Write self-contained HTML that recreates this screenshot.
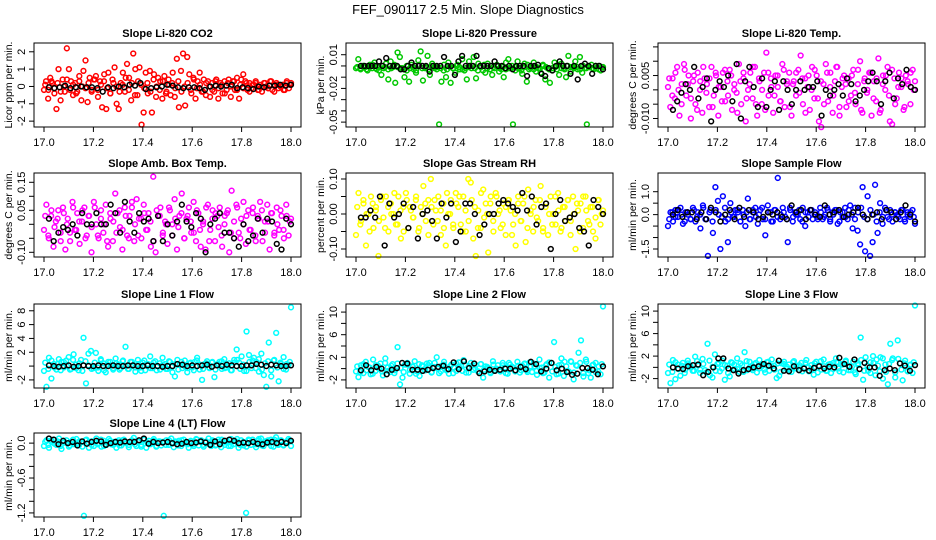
<!DOCTYPE html>
<html><head><meta charset="utf-8"><style>
html,body{margin:0;padding:0;background:#fff}
svg{display:block;font-family:"Liberation Sans",Arial,sans-serif}
</style></head><body>
<svg id="chart" width="936" height="540" viewBox="0 0 936 540">
<text x="468" y="14" text-anchor="middle" font-size="13">FEF_090117  2.5 Min. Slope Diagnostics</text>
</svg>
<script>
// x-axis (hours)
const xTicks=[17.0,17.2,17.4,17.6,17.8,18.0];
const xTickLabels=["17.0","17.2","17.4","17.6","17.8","18.0"];
const xStart=17.0, xEnd=18.0;

const titles=["Slope Li-820 CO2","Slope Li-820 Pressure","Slope Li-820 Temp.","Slope Amb. Box Temp.","Slope Gas Stream RH","Slope Sample Flow","Slope Line 1 Flow","Slope Line 2 Flow","Slope Line 3 Flow","Slope Line 4 (LT) Flow"];
const yTitles=["Licor ppm per min.","kPa per min.","degrees C per min.","degrees C per min.","percent per min.","ml/min per min.","ml/min per min.","ml/min per min.","ml/min per min.","ml/min per min."];
const colors=["#ff0000","#00c800","#ff00ff","#ff00ff","#ffff00","#0000ff","#00ffff","#00ffff","#00ffff","#00ffff"];

const yTicks=[[-2,-1,0,1,2],[-0.05,-0.04,-0.03,-0.02,-0.01,0,0.01],[-0.010,-0.005,0,0.005,0.010,0.015],[-0.10,-0.05,0,0.05,0.10,0.15],[-0.10,-0.05,0,0.05,0.10],[-1.5,-1,-0.5,0,0.5,1],[-2,0,2,4,6,8],[-2,0,2,4,6,8,10],[-2,0,2,4,6,8,10],[-1.2,-1.0,-0.8,-0.6,-0.4,-0.2,0]];
const yTickLabels=[["-2","-1","0","1","2"],["-0.05","","","-0.02","","","0.01"],["-0.010","","","0.005","",""],["-0.10","","","0.05","","0.15"],["-0.10","","0.00","","0.10"],["-1.5","","","0.0","","1.0"],["-2","","2","4","6","8"],["-2","","2","","6","","10"],["-2","","2","","6","","10"],["-1.2","","","-0.6","","","0.0"]];

const yLo=[-2.338,-0.05435,-0.01297,-0.1168,-0.1229,-1.849,-3.17,-3.43,-3.67,-1.27];
const yHi=[2.507,0.02043,0.01636,0.1832,0.1171,1.816,8.98,11.43,11.26,0.174];

const s1=[-0.2,0.3,-0.7,0.5,0.2,-0.4,-1.3,1.0,-0.8,0.4,-0.3,2.2,1.0,0.3,-0.5,0.2,-0.3,0.6,-0.8,0.9,1.5,-0.9,0.5,-0.2,0.4,0.6,-0.6,0.3,-1.2,0.7,-1.3,0.8,-0.4,0.4,1.1,-1.0,-1.3,0.2,0.8,-0.3,1.3,0.5,-0.8,1.9,1.0,-0.5,1.1,-2.2,-1.5,0.8,-0.4,0.9,-1.5,0.7,-0.6,0.5,0.3,-0.7,0.6,-0.3,0.4,-0.5,0.8,-0.6,1.6,-1.2,0.9,1.9,-1.1,1.7,0.7,-0.4,0.5,-0.7,0.3,0.8,-0.3,0.4,-0.5,0.3,-0.6,0.2,-0.3,0.4,-0.7,0.2,-0.4,0.3,-0.2,0.4,-0.6,0.3,-0.2,0.5,-0.7,0.4,0.7,0.3,-0.2,0.2,-0.1,0.1,0.2,-0.2,0.1,-0.3,0.2,0.0,-0.1,0.3,-0.2,0.1,0.2,-0.1,0.0,0.1,-0.2,0.3,-0.1,0.2];
const b1=[-0.05,-0.1,-0.05,0.05,-0.1,-0.05,0.0,-0.05,-0.05,-0.1,-0.3,-0.05,-0.1,0.0,-0.05,0.1,0.05,0.2,-0.15,-0.1,-0.05,0.0,0.1,0.05,-0.05,-0.1,-0.05,-0.05,-0.1,-0.2,0.0,0.05,0.0,0.05,0.1,-0.1,-0.05,-0.1,-0.15,0.0,-0.05,0.05,0.05,0.1,0.05,0.1];
const s2=[-0.002,0.006,-0.003,0.0,-0.001,-0.004,0.001,-0.002,0.003,-0.003,-0.001,-0.008,-0.002,0.002,-0.012,0.004,-0.001,-0.015,0.012,0.008,-0.002,-0.010,-0.004,-0.014,0.001,-0.003,-0.006,0.005,0.013,-0.013,-0.002,0.009,-0.008,0.002,-0.001,-0.003,-0.052,-0.014,-0.004,-0.010,0.003,-0.015,-0.002,-0.006,0.001,-0.003,0.006,-0.004,-0.012,0.004,-0.002,0.008,-0.011,0.002,-0.001,-0.004,-0.006,0.002,-0.003,-0.008,-0.002,0.001,-0.005,-0.003,-0.010,0.003,0.006,-0.002,-0.052,-0.004,0.004,-0.002,-0.007,0.002,-0.014,-0.003,-0.001,0.003,-0.005,-0.002,-0.006,0.001,-0.012,-0.002,-0.015,-0.004,0.003,-0.003,-0.008,0.002,-0.002,-0.010,0.009,-0.005,-0.001,0.004,-0.003,0.008,-0.006,-0.002,-0.052,-0.001,0.001,-0.003,-0.002,0.0,-0.004,-0.001];
const b2=[0.0,0.0,0.0,0.0,0.0,0.004,0.0,0.007,0.0,0.0,0.0,-0.003,-0.003,0.0,0.003,0.0,0.0,0.0,0.0,-0.005,0.0,0.0,0.0,0.008,0.0,0.0,-0.008,0.004,0.009,0.0,0.0,0.0,0.009,0.0,0.0,0.0,0.0,0.004,0.0,0.0,-0.002,0.0,-0.003,0.0,0.0,0.0,-0.009,0.0,0.0,0.001,-0.007,-0.009,-0.002,-0.004,0.0,0.004,0.0,0.0,-0.007,0.0,-0.012,0.0,0.002,0.0,-0.007,0.0,0.0,-0.003];
const s3=[0.001,-0.006,0.004,-0.003,0.008,-0.009,0.002,0.009,-0.002,0.005,-0.010,0.003,-0.005,0.006,0.000,-0.008,0.004,0.002,-0.006,0.008,-0.002,0.005,-0.009,0.001,0.006,-0.004,0.003,0.007,-0.007,0.002,-0.001,0.009,-0.005,0.004,-0.011,0.000,0.006,-0.003,0.008,-0.009,0.003,-0.005,0.006,0.013,-0.002,0.004,-0.008,0.005,0.001,-0.004,0.009,-0.006,0.002,0.006,-0.009,0.003,-0.002,0.007,0.012,-0.005,0.004,0.001,-0.007,0.008,-0.003,0.005,-0.011,-0.013,0.002,0.009,-0.004,0.006,-0.008,0.003,0.008,-0.009,0.001,0.005,-0.006,0.004,-0.002,0.007,-0.005,0.002,0.010,-0.008,0.004,-0.001,0.006,-0.009,0.003,-0.004,0.011,-0.007,0.005,0.000,0.008,-0.011,-0.012,0.004,-0.003,0.006,0.001,-0.007,0.005,0.002,-0.005,0.007,0.003];
const b3=[-0.007,-0.004,-0.001,0.002,0.000,0.008,-0.003,0.001,0.004,-0.011,0.000,0.003,0.001,0.005,-0.004,0.009,-0.010,0.003,0.008,0.001,-0.006,0.004,-0.006,0.000,0.003,-0.007,0.003,0.000,-0.005,0.000,0.003,0.000,0.001,0.001,0.003,-0.009,0.000,-0.002,0.000,0.002,-0.002,0.004,0.002,-0.004,-0.002,0.000,0.003,0.006,0.003,-0.005,0.003,0.006,-0.003,0.004,0.002,0.007,0.001,0.000];
const s4=[-0.02,0.07,-0.05,0.03,-0.08,0.01,0.05,-0.03,0.06,-0.09,0.02,-0.06,0.08,-0.02,0.04,-0.07,0.01,0.06,-0.04,0.03,-0.10,0.08,0.00,-0.05,0.05,-0.03,0.07,-0.08,0.02,-0.06,0.11,0.04,-0.01,-0.09,0.06,-0.04,0.03,0.08,-0.06,0.09,0.02,-0.05,0.07,-0.02,0.04,-0.08,0.17,-0.10,0.03,0.06,-0.04,0.01,-0.07,0.05,0.00,0.09,-0.09,0.03,0.11,-0.05,0.02,0.06,-0.03,0.08,-0.06,0.04,-0.08,0.01,-0.09,0.07,-0.02,0.05,-0.06,0.03,0.06,-0.08,0.00,0.04,-0.10,0.12,-0.05,0.07,-0.03,0.02,0.08,-0.07,0.05,-0.02,0.06,-0.04,0.03,0.08,-0.06,0.01,0.07,-0.09,0.04,-0.03,0.06,-0.02,0.03,-0.05,0.07,-0.04,0.02];
const b4=[0.02,-0.06,-0.03,-0.01,-0.02,0.00,-0.04,0.04,0.00,0.00,0.04,0.00,0.00,0.07,0.04,-0.03,0.08,0.01,-0.03,0.04,0.01,0.02,-0.06,0.03,-0.06,0.00,-0.04,0.01,0.07,0.01,-0.01,0.04,0.02,-0.10,0.00,0.02,0.04,-0.03,-0.03,-0.05,-0.08,0.00,-0.06,-0.04,0.02,-0.03,0.02,0.01,-0.07,-0.09,0.02,0.00];
const s5=[-0.06,0.06,-0.02,0.03,-0.09,0.00,0.05,-0.04,0.02,-0.12,0.04,-0.01,0.05,-0.05,0.03,0.00,-0.03,0.05,-0.07,0.02,0.06,-0.04,0.01,-0.01,0.04,-0.05,0.02,0.08,-0.02,0.04,0.10,-0.03,0.01,0.05,-0.06,0.03,-0.09,0.00,0.04,-0.04,0.06,0.02,-0.03,0.05,-0.05,0.10,0.09,-0.07,-0.12,0.01,-0.04,0.07,0.03,-0.11,0.05,-0.02,0.06,0.00,-0.04,0.03,-0.06,0.04,0.01,-0.03,-0.09,0.05,-0.02,0.03,-0.08,0.07,0.00,-0.05,0.04,-0.02,0.08,-0.04,0.02,-0.06,0.05,0.00,-0.03,0.06,-0.05,0.02,-0.02,0.04,-0.06,0.05,-0.10,0.01,0.03,-0.04,0.05,-0.02,0.02,-0.05,-0.07,0.04,-0.03,0.01];
const b5=[-0.01,-0.01,0.01,-0.01,0.05,-0.09,0.03,-0.01,0.00,0.03,-0.04,0.02,-0.07,0.00,0.01,-0.02,-0.07,0.03,-0.01,0.03,-0.08,-0.05,0.03,0.03,0.00,-0.06,-0.03,0.00,0.00,0.03,0.04,0.03,0.02,0.01,0.06,0.01,0.05,-0.03,0.02,0.03,-0.10,0.00,0.04,-0.02,-0.01,0.00,-0.04,-0.05,-0.09,0.04,0.02,0.00];
const s6=[-0.5,0.1,-0.3,0.2,-0.1,0.3,-0.4,0.1,0.0,-0.2,0.3,-0.3,0.1,-0.6,0.4,-0.2,-1.8,0.2,-0.8,1.2,0.6,-1.5,0.8,-0.3,-1.2,0.5,-0.1,0.2,0.1,-0.3,0.2,-0.5,0.7,-0.2,0.1,0.3,-0.4,0.2,-0.2,-0.9,0.4,0.1,-0.3,0.2,1.6,-0.2,0.3,-0.1,-1.2,0.2,-0.3,0.1,0.0,-0.2,0.3,-0.5,0.1,0.2,-0.2,0.1,-0.1,0.3,-0.2,0.0,0.2,-0.3,0.1,0.2,-0.4,0.1,-0.1,0.3,-0.2,0.4,-0.6,0.3,-0.7,-1.3,1.2,-1.6,0.8,-1.8,-1.2,1.3,-0.8,0.5,-0.4,0.3,-0.1,0.2,-0.3,0.1,0.0,-0.2,0.2,-0.3,0.1,-0.1,0.2,-0.4];
const b6=[0.0,0.2,-0.1,0.1,0.1,-0.2,0.1,-0.2,0.3,0.1,-0.3,0.0,0.2,-0.2,0.3,-0.1,0.2,0.1,-0.2,-0.1,0.1,0.0,0.1,-0.1,-0.2,0.4,0.1,0.2,-0.2,0.2,0.0,-0.1,0.4,0.0,0.1,0.2,-0.1,0.0,0.1,0.3,0.0,-0.2,0.0,0.1,-0.2,0.2,0.1,-0.2,0.1,0.4,0.0,-0.3];
const s7=[-0.7,-3.0,1.2,-1.8,0.3,-0.5,1.0,0.6,-0.2,0.8,1.3,-0.4,1.7,0.2,-0.6,0.9,4.1,-2.5,1.8,2.2,-0.3,1.9,-0.7,1.0,0.4,-0.9,0.6,0.1,-0.5,1.1,0.2,-0.3,0.8,2.8,-0.4,0.6,0.1,-0.8,0.9,-0.2,0.5,-0.6,0.3,1.4,-0.3,0.7,0.0,-0.5,1.2,0.3,-0.4,0.6,-0.9,-1.5,0.9,0.2,-0.3,0.8,-0.9,0.4,-0.2,0.6,1.2,-0.5,-2.0,0.3,0.7,-0.3,0.5,-1.6,0.2,0.6,-0.4,1.0,-0.2,0.4,-0.6,0.9,2.4,0.5,1.4,-0.7,5.0,1.6,-0.3,1.2,0.6,-0.8,1.8,-1.3,-3.0,3.4,-1.5,0.8,4.8,-2.2,0.3,1.3,-0.5,0.2,8.5];
const b7=[0.1,0.0,-0.1,0.0,0.1,-0.1,0.0,0.1,0.0,0.0,0.1,0.0,0.0,0.1,0.0,0.0,0.1,0.1,0.0,0.0,0.1,0.0,0.0,-0.1,0.0,0.0,0.3,0.2,0.0,0.1,0.0,0.1,0.2,-0.1,0.1,0.0,0.2,0.1,0.0,0.0,0.1,0.1,0.3,0.2,0.0,0.2,0.1,0.0,0.0,0.1];
const s8=[-0.5,-1.5,0.6,-0.8,1.2,0.3,-1.0,1.6,-0.4,0.5,0.9,-1.2,1.8,0.2,-0.6,0.8,-0.3,3.8,-2.8,-1.6,0.7,1.0,-0.9,0.4,1.3,-0.5,-1.3,0.6,-0.2,0.9,1.0,-0.6,0.3,2.0,-0.8,0.5,1.2,-0.3,-0.9,0.7,0.2,-0.4,1.1,0.4,1.5,-0.7,0.3,1.0,-0.2,0.6,-0.5,0.8,-1.6,0.4,0.1,-0.8,1.3,-0.3,0.6,-0.5,1.0,0.2,-0.9,0.7,0.3,-0.4,1.2,-0.7,0.5,0.9,-0.3,1.1,-0.6,0.4,-1.1,1.6,0.2,-0.7,0.8,-1.6,1.0,4.7,-1.0,0.6,1.8,-1.3,0.4,-0.5,1.2,-1.9,0.6,2.8,5.0,-1.4,1.6,-0.8,-1.6,0.7,1.0,-0.5,-1.0,11.0];
const b8=[-0.3,0.6,-0.3,0.3,0.0,-1.0,-0.2,0.1,1.0,0.9,-0.2,-0.2,-0.4,-0.2,0.1,0.3,0.5,-0.1,1.1,-0.1,1.3,0.1,0.9,-0.8,-0.5,-0.2,-0.4,-0.2,0.0,0.0,-0.3,0.3,-0.1,1.2,0.8,-0.5,0.0,1.0,-0.3,0.0,-0.6,-1.1,-0.9,0.1,0.1,-0.2,-1.0,0.4];
const s9=[-1.0,-2.8,1.3,-2.1,0.5,-1.5,0.8,-0.4,1.2,0.3,-0.6,1.9,0.4,-1.0,1.5,-0.5,4.2,-1.4,-1.8,2.3,0.6,-0.7,1.2,-2.2,0.3,-1.6,0.8,-0.3,1.6,-0.8,0.4,2.7,-0.5,1.0,-0.2,0.6,-0.9,1.3,0.2,-0.4,0.9,-0.6,1.4,0.3,-1.9,-1.5,0.7,1.0,-0.3,0.5,-0.8,1.1,0.2,-0.5,0.8,-0.2,1.3,-0.7,0.4,-1.3,1.0,0.3,-0.4,1.4,-0.6,0.5,-1.0,0.8,1.6,-0.2,0.6,-0.9,1.2,0.3,-0.5,1.0,-1.2,0.4,5.3,-2.2,1.8,-0.6,0.9,2.0,-1.4,0.3,1.8,-2.0,0.5,-3.0,4.2,1.6,-1.8,4.8,0.7,-2.3,1.2,-0.6,0.4,-1.0,11.0];
const b9=[0.0,-0.2,-0.3,0.2,0.4,0.5,-1.4,-0.8,0.0,1.6,1.6,-0.2,-0.5,-1.1,-0.5,-0.3,0.0,0.2,0.6,0.3,-0.2,1.2,-0.6,-0.7,0.2,-0.5,-0.2,-0.6,-0.1,0.2,-0.2,0.1,0.0,1.7,0.6,0.1,1.4,-0.3,0.8,0.0,0.0,-1.5,-0.5,-0.2,-0.5,0.7,0.3,-0.6,0.4];
const s10=[-0.05,0.05,-0.08,0.02,0.06,-0.03,0.08,-0.1,0.01,0.05,-0.06,0.03,-0.02,0.07,-0.04,0.02,-1.25,0.06,-0.08,0.03,-0.05,0.08,0.0,-0.06,0.04,-0.03,0.07,-0.02,0.02,-0.08,0.05,-0.04,0.06,0.01,-0.07,0.03,0.09,-0.05,0.02,-0.03,0.06,-0.08,0.04,0.0,0.07,-0.06,0.03,-0.04,-1.25,0.05,-0.03,0.08,-0.07,0.02,0.04,-0.05,0.06,0.01,-0.08,0.03,-0.02,0.07,-0.04,0.05,-0.06,0.02,0.08,-0.05,0.03,-0.03,0.06,-0.07,0.01,0.04,-0.05,0.07,-0.02,0.03,-0.08,0.05,-0.04,-1.2,0.06,-0.03,0.02,-0.07,0.04,0.08,-0.05,0.03,0.0,0.06,-0.06,0.1,-0.03,0.05,-0.04,0.02,0.07,-0.05];
const b10=[0.08,0.06,-0.02,0.04,0.0,0.02,-0.04,0.03,-0.01,0.02,0.04,0.03,-0.03,0.0,0.02,0.01,0.03,0.02,0.02,0.05,0.08,-0.01,0.02,0.0,0.01,0.02,0.0,-0.02,-0.01,0.02,0.0,0.01,0.03,0.01,-0.03,0.03,-0.02,0.04,0.06,0.04,0.0,0.01,0.0,0.02,-0.01,-0.02,0.01,0.02,0.0,0.02,0.0,0.04];

// additional (denser) readings of each colored band
const d1=[0.1,-0.2,0.3,-0.1,0.2,-0.3,0.0,0.4,-0.2,0.1,-0.4,0.3,0.0,-0.1,0.2,-0.3,0.4,-0.2,0.1,0.3,-0.1,-0.4,0.2,0.0,-0.3,0.1,0.5,-0.2,0.2,-0.5,0.3,0.1,-0.1,0.2,-0.3,0.4,0.0,-0.2,0.3,-0.4,0.1,0.2,-0.1,0.3,-0.3,0.0,0.2,-0.2,0.4,-0.1,0.1,-0.3,0.2,0.0,-0.2,0.3,-0.1,0.1,-0.4,0.2,0.0,0.3,-0.2,0.1,-0.1,0.2,-0.3,0.1,0.3,-0.2,0.0,0.2,-0.1,0.3,-0.3,0.1,0.0,-0.2,0.2,0.1];
const d2=[-0.001,-0.002,0.0,-0.003,-0.001,0.001,-0.002,-0.004,0.0,-0.001,-0.003,-0.002,0.001,-0.001,-0.002,-0.003,0.0,-0.002,-0.001,-0.004,0.001,-0.002,-0.001,-0.003,0.0,-0.002,-0.001,-0.002,0.001,-0.003,-0.001,-0.002,0.0,-0.001,-0.003,-0.002,-0.001,0.0,-0.002,-0.004,-0.001,0.001,-0.002,-0.003,-0.001,0.0,-0.002,-0.001,-0.003,-0.002,0.0,-0.001,-0.002,-0.004,-0.001,0.001,-0.002,-0.003,-0.001,-0.002,0.0,-0.001,-0.003,-0.002,-0.001,0.001,-0.002,-0.003,0.0,-0.001,-0.002,-0.001,-0.003,0.0,-0.002,-0.001,-0.002,0.0,-0.003,-0.001];
const d3=[0.004,-0.002,0.006,0.000,-0.005,0.007,0.002,-0.003,0.005,-0.007,0.003,0.008,-0.001,0.004,-0.006,0.006,0.001,-0.004,0.007,-0.002,0.005,0.000,-0.008,0.003,0.006,-0.003,0.002,0.008,-0.005,0.004,0.000,-0.007,0.006,0.001,-0.002,0.005,-0.004,0.007,0.003,-0.006,0.002,0.006,-0.001,0.004,-0.008,0.005,0.000,0.007,-0.003,0.003,-0.005,0.006,0.001,-0.002,0.008,-0.006,0.004,0.002,-0.004,0.005,-0.001,0.007,-0.007,0.003,0.000,0.006,-0.003,0.004,-0.008,0.002,0.005,-0.002,0.007,-0.005,0.001,0.004,-0.006,0.003,0.006,0.000];
const d4=[0.03,-0.04,0.05,-0.01,0.02,-0.06,0.04,0.00,-0.03,0.06,-0.02,0.01,0.05,-0.05,0.03,-0.01,0.06,-0.04,0.02,0.00,-0.06,0.04,0.01,-0.03,0.05,-0.02,0.03,-0.05,0.06,0.00,-0.04,0.02,0.04,-0.02,0.01,-0.06,0.05,0.03,-0.03,0.00,0.06,-0.04,0.02,-0.01,0.04,-0.05,0.03,0.01,-0.03,0.05,-0.02,0.00,0.06,-0.06,0.02,0.04,-0.01,-0.04,0.03,0.05,-0.03,0.01,0.06,-0.05,0.00,0.03,-0.02,0.04,-0.06,0.02,0.05,-0.03,0.01,0.04,-0.04,0.00,0.05,-0.02,0.03,0.01];
const d5=[0.02,-0.03,0.04,0.00,-0.05,0.03,0.01,-0.02,0.05,-0.04,0.02,0.00,0.06,-0.03,0.01,-0.05,0.04,0.02,-0.01,0.05,-0.04,0.00,0.03,-0.06,0.02,0.04,-0.02,0.01,-0.04,0.06,0.00,-0.03,0.03,0.05,-0.05,0.01,-0.02,0.04,0.02,-0.04,0.06,-0.01,0.00,0.03,-0.05,0.05,0.01,-0.03,0.02,0.04,-0.06,0.00,0.03,-0.02,0.05,-0.04,0.01,0.02,-0.01,0.04,-0.05,0.03,0.00,-0.03,0.05,0.01,-0.04,0.02,0.04,-0.02,0.00,0.03,-0.05,0.05,0.01,-0.03,0.02,-0.01,0.04,0.00];
const d6=[-0.2,0.1,-0.1,0.2,0.0,-0.3,0.1,-0.2,0.2,-0.1,0.0,0.3,-0.2,0.1,-0.3,0.2,0.0,-0.1,0.3,-0.2,0.1,-0.1,0.2,-0.3,0.0,0.1,-0.2,0.2,-0.1,0.0,0.3,-0.2,0.1,-0.3,0.2,-0.1,0.0,0.1,-0.2,0.3,-0.1,0.0,0.2,-0.3,0.1,-0.1,0.2,0.0,-0.2,0.1,-0.1,0.3,-0.2,0.0,0.2,-0.3,0.1,-0.1,0.2,0.0,-0.2,0.1,0.3,-0.1,-0.2,0.2,0.0,-0.3,0.1,-0.1,0.2,-0.2,0.0,0.1,-0.1,0.2,-0.2,0.0,0.1,-0.1];
const d7=[0.5,-0.4,0.8,-0.2,0.3,-0.6,0.6,0.0,-0.5,0.9,-0.3,0.4,-0.7,0.7,0.1,-0.4,0.5,-0.2,0.8,-0.6,0.2,0.6,-0.3,0.4,-0.5,0.7,0.0,-0.4,0.6,-0.2,0.3,-0.7,0.8,0.1,-0.3,0.5,-0.6,0.4,0.2,-0.4,0.7,-0.1,0.3,-0.5,0.6,0.0,-0.3,0.5,-0.6,0.8,0.2,-0.4,0.4,-0.2,0.6,-0.5,0.3,0.7,-0.3,0.1,-0.6,0.5,0.9,-0.4,0.2,-0.7,0.6,0.8,-0.3,1.0,-0.5,0.4,0.7,-0.6,0.9,-0.2,0.5,-0.4,0.3,0.6];
const d8=[0.4,-0.6,0.8,-0.3,0.2,-0.9,0.6,0.0,-0.5,1.0,-0.4,0.5,-0.8,0.9,0.1,-0.6,0.7,-0.2,0.3,-0.9,0.8,0.4,-0.3,0.6,-0.7,1.0,0.0,-0.5,0.7,-0.2,0.4,-0.8,0.9,0.2,-0.4,0.6,-0.7,0.5,0.1,-0.5,0.8,-0.2,0.3,-0.6,0.7,0.0,-0.4,0.6,-0.8,1.0,0.2,-0.5,0.5,-0.3,0.8,-0.6,0.4,0.9,-0.4,0.1,-0.8,0.6,1.1,-0.5,0.3,-0.9,0.7,1.2,-0.6,1.3,-0.7,0.5,1.0,-0.8,1.2,-0.3,0.6,-0.6,0.4,0.8];
const d9=[0.5,-0.8,0.9,-0.3,0.3,-1.0,0.7,0.0,-0.6,1.1,-0.4,0.6,-0.9,1.2,0.1,-0.6,0.8,-0.2,0.4,-1.0,0.9,0.5,-0.3,0.7,-0.8,1.1,0.0,-0.5,0.8,-0.2,0.4,-0.9,1.0,0.2,-0.4,0.7,-0.8,0.6,0.1,-0.5,0.9,-0.2,0.4,-0.7,0.8,0.0,-0.4,0.7,-0.9,1.1,0.2,-0.6,0.6,-0.3,0.9,-0.7,0.5,1.0,-0.5,0.1,-0.9,0.7,1.3,-0.6,0.3,-1.0,0.8,1.4,-0.7,1.6,-0.8,0.6,1.3,-0.9,1.5,-0.4,0.7,-0.7,0.5,0.9];
const d10=[0.02,-0.03,0.05,-0.01,0.03,-0.05,0.04,0.00,-0.04,0.06,-0.02,0.03,-0.06,0.05,0.01,-0.03,0.04,-0.02,0.06,-0.05,0.02,0.04,-0.03,0.03,-0.04,0.05,0.00,-0.03,0.05,-0.02,0.02,-0.06,0.06,0.01,-0.02,0.04,-0.05,0.03,0.02,-0.03,0.05,-0.01,0.03,-0.04,0.05,0.00,-0.02,0.04,-0.05,0.06,0.02,-0.03,0.03,-0.02,0.05,-0.04,0.02,0.06,-0.03,0.01,-0.05,0.04,0.07,-0.03,0.02,-0.06,0.05,0.06,-0.02,0.07,-0.04,0.03,0.05,-0.05,0.06,-0.02,0.04,-0.03,0.03,0.05];

const coloredSeries=[s1,s2,s3,s4,s5,s6,s7,s8,s9,s10];
const denseSeries=[d1,d2,d3,d4,d5,d6,d7,d8,d9,d10];
const blackSeries=[b1,b2,b3,b4,b5,b6,b7,b8,b9,b10];

const NS="http://www.w3.org/2000/svg";
const svg=document.getElementById('chart');
function mk(tag,attrs,parent){const e=document.createElementNS(NS,tag);for(const k in attrs)e.setAttribute(k,attrs[k]);(parent||svg).appendChild(e);return e;}
const boxL=[34,346,658], boxW=267, rowTop=[43,173,304,433], boxH=84;

for(let p=0;p<10;p++){
  const col=p%3,row=Math.floor(p/3);
  const L=boxL[col],T=rowTop[row],R=L+boxW,B=T+boxH;
  const xs=v=>L+10+(v-xStart)/(xEnd-xStart)*(boxW-20);
  const ys=v=>B-(v-yLo[p])/(yHi[p]-yLo[p])*boxH;
  const g=mk('g',{});
  
  
  const t=mk('text',{x:L+boxW/2,y:T-6,'text-anchor':'middle','font-size':'11','font-weight':'bold'},g);
  
  
  t.textContent=titles[p];
  const pts=mk('g',{fill:'none','stroke-width':'1.5'},g);
  
  
  const ds=denseSeries[p];
  ds.forEach((v,i)=>{
    const c=mk('circle',{cx:xs(xStart+0.005+(xEnd-xStart-0.01)*i/(ds.length-1)),cy:ys(v),r:2.4,stroke:colors[p]},pts);
    
    
  });
  const cs=coloredSeries[p];
  cs.forEach((v,i)=>{
    const c=mk('circle',{cx:xs(xStart+(xEnd-xStart)*i/(cs.length-1)),cy:ys(v),r:2.4,stroke:colors[p]},pts);
    
    
  });
  const bs=blackSeries[p];
  bs.forEach((v,i)=>{
    const c=mk('circle',{cx:xs(xStart+0.02+(xEnd-xStart-0.02)*i/(bs.length-1)),cy:ys(v),r:2.4,stroke:'#000'},pts);
    
    
  });
  const box=mk('rect',{x:L,y:T,width:boxW,height:boxH,fill:'none',stroke:'#000','stroke-width':'1'},g);
  
  
  const xa=mk('g',{},g);
  
  
  mk('line',{x1:xs(xTicks[0]),x2:xs(xTicks[xTicks.length-1]),y1:B,y2:B,stroke:'#000'},xa);
  xTicks.forEach((v,i)=>{
    mk('line',{x1:xs(v),x2:xs(v),y1:B,y2:B+5,stroke:'#000'},xa);
    const tl=mk('text',{x:xs(v),y:B+19,'text-anchor':'middle','font-size':'11'},xa);
    
    
    tl.textContent=xTickLabels[i];
  });
  const ya=mk('g',{},g);
  
  
  const yt=yTicks[p];
  mk('line',{x1:L,x2:L,y1:ys(yt[0]),y2:ys(yt[yt.length-1]),stroke:'#000'},ya);
  yt.forEach((v,i)=>{
    mk('line',{x1:L-5,x2:L,y1:ys(v),y2:ys(v),stroke:'#000'},ya);
    if(yTickLabels[p][i]){
      const tl=mk('text',{x:0,y:0,'text-anchor':'middle','font-size':'11',transform:`translate(${L-9},${ys(v)}) rotate(-90)`},ya);
      
      
      tl.textContent=yTickLabels[p][i];
    }
  });
  const yl=mk('text',{x:0,y:0,'text-anchor':'middle','font-size':'10.5',transform:`translate(${L-22},${T+boxH/2}) rotate(-90)`},g);
  
  
  yl.textContent=yTitles[p];
}
</script>
</body></html>
